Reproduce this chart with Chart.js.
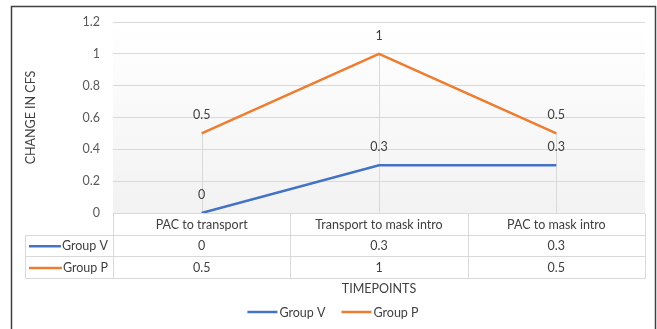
<!DOCTYPE html>
<html>
<head>
<meta charset="utf-8">
<script src="https://cdn.jsdelivr.net/npm/chart.js@4.4.0/dist/chart.umd.min.js"></script>
<style>
  html, body { margin: 0; padding: 0; background: #ffffff; }
  #wrap { width: 657px; height: 329px; position: relative; }
</style>
</head>
<body>
<div id="wrap"><canvas id="c" width="657" height="329"></canvas></div>
<script>
const categories = ["PAC to transport", "Transport to mask intro", "PAC to mask intro"];
const groupV = [0, 0.3, 0.3];
const groupP = [0.5, 1, 0.5];
const seriesNames = ["Group V", "Group P"];
const seriesColors = ["#4472C4", "#ED7D31"];
const yAxisTitle = "CHANGE IN CFS";
const xAxisTitle = "TIMEPOINTS";

const FONT = "Lato, 'Open Sans', sans-serif";
const TXT = "#404040";
const GRID = "#d9d9d9";

const extras = {
  id: 'extras',
  beforeDraw(chart) {
    const ctx = chart.ctx, a = chart.chartArea;
    ctx.save();
    ctx.fillStyle = '#ffffff';
    ctx.fillRect(0, 0, chart.width, chart.height);
    const g = ctx.createLinearGradient(0, a.top, 0, a.bottom);
    g.addColorStop(0, '#ffffff');
    g.addColorStop(1, '#f2f2f2');
    ctx.fillStyle = g;
    ctx.fillRect(a.left, a.top, a.right - a.left, a.bottom - a.top);
    ctx.restore();
  },
  beforeDatasetsDraw(chart) {
    const ctx = chart.ctx, x = chart.scales.x, y = chart.scales.y;
    ctx.save();
    ctx.strokeStyle = GRID;
    ctx.lineWidth = 1;
    categories.forEach((c, i) => {
      const px = Math.round(x.getPixelForValue(i)) + 0.5;
      const top = y.getPixelForValue(Math.max(groupV[i], groupP[i]));
      ctx.beginPath();
      ctx.moveTo(px, top);
      ctx.lineTo(px, y.getPixelForValue(0));
      ctx.stroke();
    });
    ctx.restore();
  },
  afterDatasetsDraw(chart) {
    const ctx = chart.ctx, x = chart.scales.x, y = chart.scales.y, a = chart.chartArea;
    ctx.save();
    ctx.font = "12.5px " + FONT;
    ctx.fillStyle = TXT;
    ctx.textAlign = 'center';
    ctx.textBaseline = 'middle';
    chart.data.datasets.forEach(ds => {
      ds.data.forEach((v, i) => {
        ctx.fillText(String(v), x.getPixelForValue(i), y.getPixelForValue(v) - 18);
      });
    });

    // data table
    const left0 = 25, rowH = [a.bottom, a.bottom + 21.5, a.bottom + 43, a.bottom + 65];
    const n = categories.length;
    const step = n > 1 ? x.getPixelForValue(1) - x.getPixelForValue(0) : (a.right - a.left);
    const colX = [a.left];
    for (let i = 0; i < n; i++) colX.push(x.getPixelForValue(i) + step / 2);
    ctx.strokeStyle = GRID;
    ctx.lineWidth = 1;
    const hl = (x1, x2, yy) => { ctx.beginPath(); ctx.moveTo(x1, Math.round(yy) + 0.5); ctx.lineTo(x2, Math.round(yy) + 0.5); ctx.stroke(); };
    const vl = (xx, y1, y2) => { ctx.beginPath(); ctx.moveTo(Math.round(xx) + 0.5, y1); ctx.lineTo(Math.round(xx) + 0.5, y2); ctx.stroke(); };
    hl(a.left, a.right, rowH[0]);
    for (let r = 1; r < 4; r++) hl(left0, a.right, rowH[r]);
    colX.forEach(cx => vl(cx, Math.round(rowH[0]) + 0.5, Math.round(rowH[3]) + 0.5));
    vl(left0, Math.round(rowH[1]) + 0.5, Math.round(rowH[3]) + 0.5);

    ctx.fillStyle = TXT;
    ctx.textBaseline = 'middle';
    ctx.textAlign = 'center';
    categories.forEach((c, i) => {
      const cx = x.getPixelForValue(i);
      ctx.fillText(c, cx, (rowH[0] + rowH[1]) / 2 + 1);
      ctx.fillText(String(groupV[i]), cx, (rowH[1] + rowH[2]) / 2 + 1);
      ctx.fillText(String(groupP[i]), cx, (rowH[2] + rowH[3]) / 2 + 1);
    });
    seriesNames.forEach((nm, r) => {
      const cy = (rowH[r + 1] + rowH[r + 2]) / 2 + 1;
      ctx.textAlign = 'right';
      ctx.fillText(nm, a.left - 5, cy);
      const tw = ctx.measureText(nm).width;
      ctx.strokeStyle = seriesColors[r];
      ctx.lineWidth = 2.5;
      ctx.beginPath();
      ctx.moveTo(a.left - 5 - tw - 1, cy);
      ctx.lineTo(29, cy);
      ctx.stroke();
    });

    // x title
    ctx.textAlign = 'center';
    ctx.fillText(xAxisTitle, (a.left + a.right) / 2, 289);

    // y title
    ctx.save();
    ctx.translate(31, (a.top + a.bottom) / 2);
    ctx.rotate(-Math.PI / 2);
    ctx.fillText(yAxisTitle, 0, 0);
    ctx.restore();

    // legend
    const lineW = 30, gapT = 2, gapItem = 16;
    const widths = seriesNames.map(nm => lineW + gapT + ctx.measureText(nm).width);
    const total = widths.reduce((s, w) => s + w, 0) + gapItem * (seriesNames.length - 1);
    let lx = 333 - total / 2;
    const ly = 312;
    seriesNames.forEach((nm, i) => {
      ctx.strokeStyle = seriesColors[i];
      ctx.lineWidth = 2.5;
      ctx.beginPath();
      ctx.moveTo(lx, ly);
      ctx.lineTo(lx + lineW, ly);
      ctx.stroke();
      ctx.textAlign = 'left';
      ctx.fillText(nm, lx + lineW + gapT, ly + 1);
      lx += widths[i] + gapItem;
    });

    // outer border
    ctx.strokeStyle = '#404040';
    ctx.lineWidth = 1.5;
    ctx.strokeRect(11.5, 6.5, 644, 340);
    ctx.restore();
  }
};

new Chart(document.getElementById('c'), {
  type: 'line',
  data: {
    labels: categories,
    datasets: [
      { label: seriesNames[0], data: groupV, borderColor: seriesColors[0], backgroundColor: seriesColors[0], borderWidth: 2.5, pointRadius: 0, tension: 0 },
      { label: seriesNames[1], data: groupP, borderColor: seriesColors[1], backgroundColor: seriesColors[1], borderWidth: 2.5, pointRadius: 0, tension: 0 }
    ]
  },
  options: {
    responsive: false,
    animation: false,
    layout: { padding: { left: 12, right: 12, top: 22, bottom: 116 } },
    plugins: { legend: { display: false }, tooltip: { enabled: false } },
    scales: {
      x: {
        offset: true,
        grid: { display: false },
        border: { display: false },
        ticks: { display: false },
        afterFit: s => { s.height = 0; }
      },
      y: {
        min: 0, max: 1.2,
        ticks: { stepSize: 0.2, color: '#595959', font: { family: FONT, size: 12.5 }, padding: 13,
          callback: v => String(Math.round(v * 10) / 10) },
        grid: { color: GRID, drawTicks: false },
        border: { display: false },
        afterFit: s => { s.width = 101; }
      }
    }
  },
  plugins: [extras]
});
</script>
</body>
</html>
